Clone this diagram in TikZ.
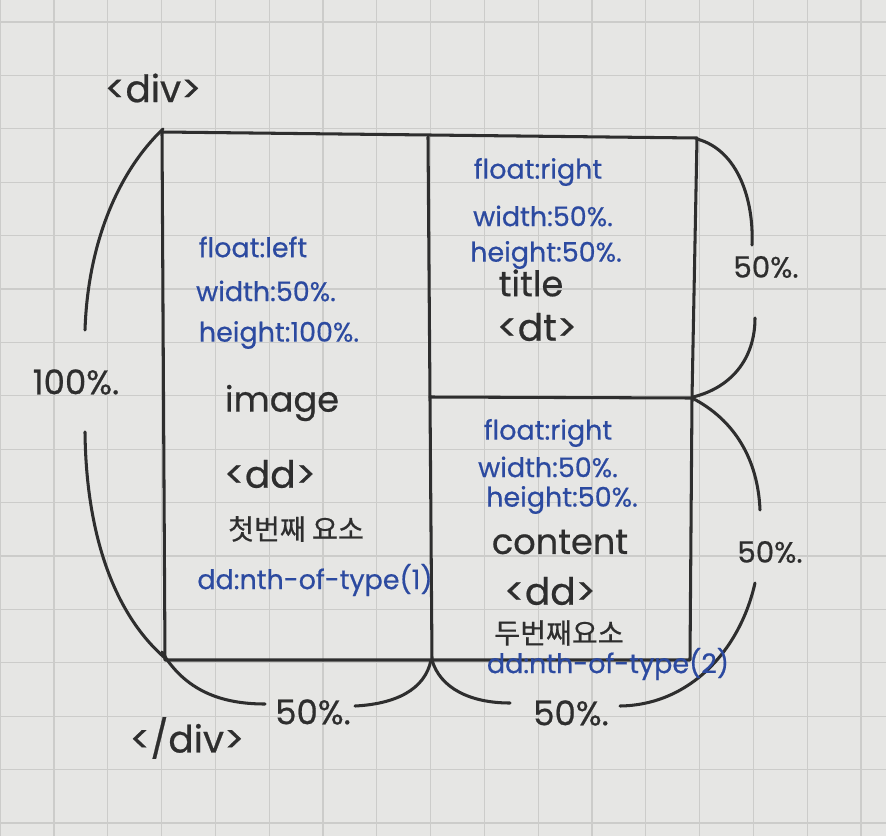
\documentclass[tikz,border=0pt]{standalone}
\usepackage{fontspec}
\setmainfont{Poppins}[FakeBold=0.6]
\newfontfamily\krfont{Noto Sans CJK KR}[FakeBold=0.6]
\definecolor{paper}{HTML}{E6E6E4}
\definecolor{gridc}{HTML}{CCCCCA}
\definecolor{ink}{HTML}{2E2E2E}
\definecolor{blueink}{HTML}{2C4AA0}
\tikzset{
  pen/.style={draw=ink, line width=2.6pt, line cap=round, line join=round},
  gridline/.style={draw=gridc, line width=0.9pt},
  bluetxt/.style={text=blueink, font=\fontsize{23}{25}\selectfont, inner sep=0pt},
  blacktxt/.style={text=ink, font=\fontsize{30}{32}\selectfont, inner sep=0pt},
  tagtxt/.style={text=ink, font=\fontsize{32}{34}\selectfont, inner sep=0pt},
  pcttxt/.style={text=ink, font=\fontsize{25}{27}\selectfont, inner sep=0pt},
  bigpct/.style={text=ink, font=\fontsize{29}{31}\selectfont, inner sep=0pt},
  krtxt/.style={text=ink, font=\krfont\fontsize{24}{26}\selectfont, inner sep=0pt},
}
\begin{document}
\begin{tikzpicture}[x=0.03cm,y=-0.03cm]
\fill[paper] (0,0) rectangle (886,836);
\useasboundingbox (0,0) rectangle (886,836);
% grid paper
\foreach \k in {0,...,16} {\draw[gridline] ({54+53.8*\k},0) -- ({54+53.8*\k},836);}
\draw[gridline] (0.3,0) -- (0.3,836);
\foreach \k in {0,...,15} {\draw[gridline] (0,{22+53.4*\k}) -- (886,{22+53.4*\k});}
% main box
\draw[pen] (162,132) -- (697,138) -- (692,398) -- (690,660) -- (165,660) -- cycle;
\draw[pen] (428,137) -- (432,660);
\draw[pen] (430,397) -- (692,398);
% left 100% bracket
\draw[pen] (163,129) .. controls (120,170) and (88,240) .. (85,330);
\draw[pen] (85,432) .. controls (86,530) and (112,612) .. (165,658);
% bottom brackets
\draw[pen] (162,652) .. controls (185,690) and (220,704) .. (265,704);
\draw[pen] (355,706) .. controls (395,704) and (425,690) .. (431,660);
\draw[pen] (432,660) .. controls (440,688) and (470,703) .. (510,703);
% right top bracket
\draw[pen] (697,139) .. controls (738,150) and (754,200) .. (752,245);
\draw[pen] (755,318) .. controls (755,360) and (730,388) .. (693,397);
% right bottom bracket
\draw[pen] (692,398) .. controls (735,420) and (758,460) .. (760,510);
\draw[pen] (755,583) .. controls (740,650) and (690,705) .. (620,706);
% labels outside
\node[tagtxt] (divopen) at (153,88) {<div>};
\node[tagtxt] (divclose) at (187,738) {</div>};
\node[bigpct] (p100) at (76,382) {100\%.};
\node[pcttxt] (p50a) at (766,267) {50\%.};
\node[pcttxt] (p50b) at (770,552) {50\%.};
\node[bigpct] (p50c) at (313,712) {50\%.};
\node[bigpct] (p50d) at (571,713) {50\%.};
% left column
\node[bluetxt] (fl) at (253,247) {float:left};
\node[bluetxt] (wl) at (266,291) {width:50\%.};
\node[bluetxt] (hl) at (279,335) {height:100\%.};
\node[blacktxt] (img) at (282,403) {image};
\node[tagtxt] (dd1) at (270,474) {<dd>};
\node[krtxt] (kr1) at (296,529) {첫번째 요소};
\node[bluetxt] (nth1) at (315,580) {dd:nth-of-type(1)};
% top right
\node[bluetxt] (fr1) at (538,172) {float:right};
\node[bluetxt] (wr1) at (543,216) {width:50\%.};
\node[bluetxt] (hr1) at (546,255) {height:50\%.};
\node[blacktxt] (title) at (531,283) {title};
\node[tagtxt] (dt) at (537,327) {<dt>};
% bottom right
\node[bluetxt] (fr2) at (548,433) {float:right};
\node[bluetxt] (wr2) at (548,467) {width:50\%.};
\node[bluetxt] (hr2) at (562,500) {height:50\%.};
\node[blacktxt] (content) at (560,542) {content};
\node[tagtxt] (dd2) at (550,591) {<dd>};
\node[krtxt] (kr2) at (559,633) {두번째요소};
\node[bluetxt] (nth2) at (608,664) {dd:nth-of-type(2)};
\end{tikzpicture}
\end{document}
